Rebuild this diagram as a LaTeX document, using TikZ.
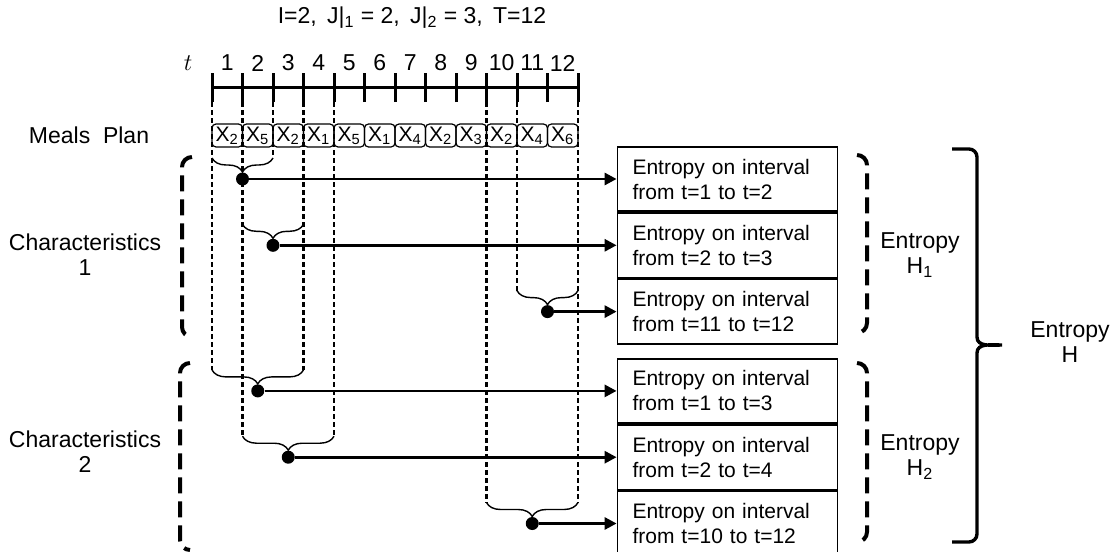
\documentclass[tikz,border=0pt]{standalone}
\usepackage{fontspec}
\setmainfont{Liberation Sans}
\usetikzlibrary{arrows.meta, calc, positioning, decorations.pathreplacing}

\tikzset{
    meal/.style={draw, line width=0.6pt, rounded corners=2pt, minimum width=15.25pt, minimum height=11.5pt, inner sep=0pt},
    entbox/.style={draw, line width=0.9pt, minimum height=32.25pt, text width=95pt, inner xsep=7.5pt, inner ysep=0pt, align=left},
    guide/.style={line width=1.2pt, dash pattern=on 2.5pt off 1.5pt},
    span/.style={line width=0.7pt, decorate, decoration={brace, mirror, amplitude=7pt}},
    dot/.style={circle, fill, inner sep=0pt, minimum size=6.5pt},
    feed/.style={line width=1.4pt, -{Triangle[length=6pt, width=6pt]}},
    group/.style={line width=2pt, dash pattern=on 8pt off 4pt},
    axis/.style={line width=1.5pt},
    side/.style={font=\fontsize{11.5pt}{12.5pt}\selectfont, align=center},
}

\begin{document}
\begin{tikzpicture}[x=0.5pt, y=-0.5pt, font=\fontsize{10.5pt}{12.5pt}\selectfont]
    \useasboundingbox (0,0) rectangle (1110,552);

    % Title
    \node[side] (title) at (412,18) {I=2,\, J|\textsubscript{1} = 2,\, J|\textsubscript{2} = 3,\, T=12};

    % Time axis with ticks
    \foreach \i in {0,...,12}
        \coordinate (k\i) at ({212+30.5*\i},102);
    \node[side] (tlab) at (188,63) {$t$};
    \draw[axis] ($(k0)+(0,-15)$) -- ($(k12)+(0,-15)$);
    \foreach \i in {0,...,12}
        \draw[axis] (k\i) -- ++(0,-29);
    \foreach \i in {1,...,12}
        \node[side] (n\i) at ($(k\i)+(-15.25,-39)$) {\i};

    % Meals plan
    \node[side] (plan) at (89,135) {Meals\ \ Plan};
    \foreach \x [count=\i] in {2,5,2,1,5,1,4,2,3,2,4,6}
        \node[meal] (m\i) at ($(k\i)+(-15.25,33.5)$) {X\textsubscript{\x}};

    % Entropy boxes
    \node[entbox] (e1) at (727.5,179) {Entropy on interval\\from t=1 to t=2};
    \node[entbox, below=0pt of e1] (e2) {Entropy on interval\\from t=2 to t=3};
    \node[entbox, below=0pt of e2] (e3) {Entropy on interval\\from t=11 to t=12};
    \node[entbox, below=6.5pt of e3] (e4) {Entropy on interval\\from t=1 to t=3};
    \node[entbox, below=0pt of e4] (e5) {Entropy on interval\\from t=2 to t=4};
    \node[entbox, below=0pt of e5] (e6) {Entropy on interval\\from t=10 to t=12};

    % Intervals: brace, dot and arrow
    \foreach \n/\a/\b in {1/0/2, 2/1/3, 3/10/12, 4/0/3, 5/1/4, 6/9/12} {
        \coordinate (c\n) at ($(k\a)!.5!(k\b)$);
        \node[dot] (d\n) at (c\n |- e\n) {};
        \coordinate (l\n) at ($(k\a |- d\n)+(0,-21)$);
        \coordinate (r\n) at ($(k\b |- d\n)+(0,-21)$);
        \draw[span] (l\n) -- (r\n);
        \draw[feed] (d\n) -- (e\n);
    }

    % Dashed guides from the axis
    \draw[guide] (k0) -- (l4);
    \draw[guide] (k1) -- (l5);
    \draw[guide] (k2) -- (r1);
    \draw[guide] (k3) -- (r4);
    \draw[guide] (k4) -- (r5);
    \draw[guide] (k9) -- (l6);
    \draw[guide] (k10) -- (l3);
    \draw[guide] (k12) -- (r6);

    % Characteristics groups
    \node[side] (ch1) at (85,255) {Characteristics\\1};
    \node[side] (ch2) at (85,452) {Characteristics\\2};
    \draw[group] (192,157) to[out=180,in=90] (182,167) -- (182,327) to[out=-90,in=180] (192,337);
    \draw[group] (190,363) to[out=180,in=90] (180,373) -- (180,540) to[out=-90,in=180] (190,550);
    \draw[group] (857,155) to[out=0,in=90] (867,165) -- (867,323) to[out=-90,in=0] (857,333);
    \draw[group] (857,363) to[out=0,in=90] (867,373) -- (867,532) to[out=-90,in=0] (857,542);

    % Entropy labels
    \node[side] (h1) at (920,255) {Entropy\\H\textsubscript{1}};
    \node[side] (h2) at (920,457) {Entropy\\H\textsubscript{2}};
    \node[side] (h) at (1070,342) {Entropy\\H};

    % Total brace
    \draw[line width=1.7pt] (952,149) -- (969,149) to[out=0,in=90] (977,157) -- (977,337)
        to[out=-90,in=180] (1002,345) to[out=180,in=90] (977,353) -- (977,534)
        to[out=-90,in=0] (969,542) -- (952,542);
\end{tikzpicture}
\end{document}
